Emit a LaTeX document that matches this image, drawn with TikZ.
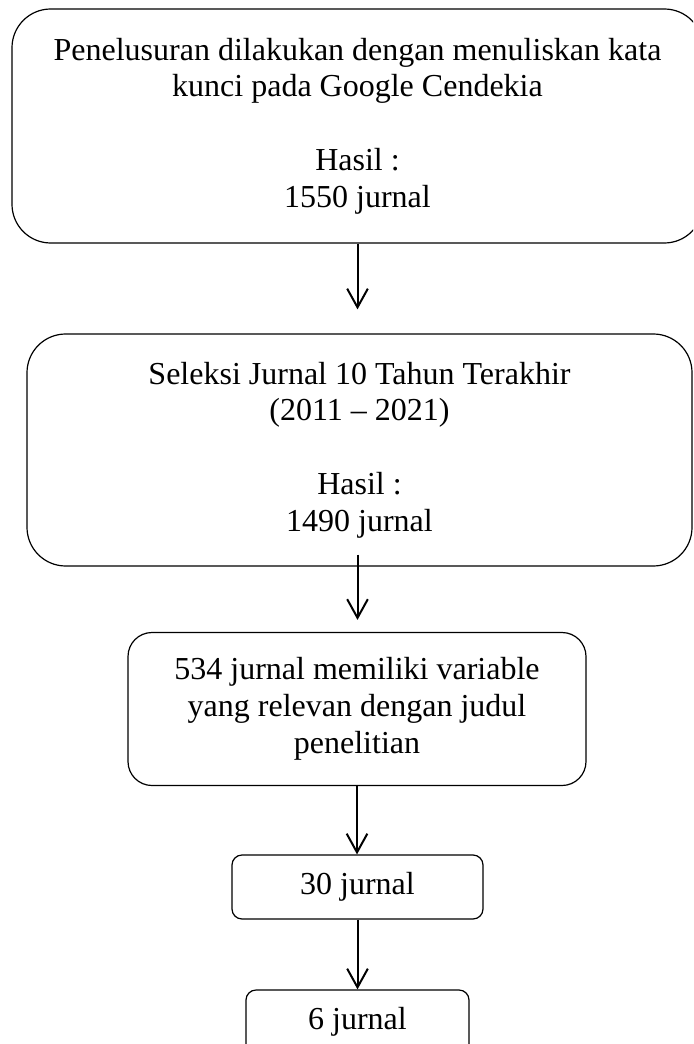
\documentclass[tikz,border=0pt]{standalone}
\usepackage{fontspec}
\setmainfont{Liberation Serif}
\usetikzlibrary{arrows.meta}
\tikzset{
  flowbox/.style={draw=black, line width=0.9pt, align=center, inner sep=0pt,
    font=\fontsize{24pt}{27.6pt}\selectfont},
  bigbox/.style={flowbox, rounded corners=29pt},
  midbox/.style={flowbox, rounded corners=18pt},
  smallbox/.style={flowbox, rounded corners=7.5pt},
  flowarrow/.style={draw=black, line width=1.5pt, -{Straight Barb[length=14pt,width=15.5pt,line width=1.5pt]}}
}
\begin{document}
\begin{tikzpicture}[x=0.75pt,y=-0.75pt]
\clip (0,0) rectangle (693,1044);
\fill[white] (0,0) rectangle (693,1044);

\node[bigbox, minimum width=518.25pt, minimum height=175.5pt] (b1) at (357.5,126)
  {Penelusuran dilakukan dengan menuliskan kata\\ kunci pada Google Cendekia\\[27.6pt] Hasil :\\ 1550 jurnal};

\node[bigbox, minimum width=498.75pt, minimum height=174pt] (b2) at (359.5,450)
  {Seleksi Jurnal 10 Tahun Terakhir\\ (2011 -- 2021)\\[27.6pt] Hasil :\\ 1490 jurnal};

\node[midbox, minimum width=343.5pt, minimum height=114.75pt] (b3) at (357,709)
  {534 jurnal memiliki variable\\ yang relevan dengan judul\\ penelitian};

\node[smallbox, minimum width=188.25pt, minimum height=48pt] (b4) at (357.5,887)
  {30 jurnal};

\node[smallbox, minimum width=167.25pt, minimum height=48pt] (b5) at (357.5,1022)
  {6 jurnal};

\draw[flowarrow, shorten >=18pt] (b1.south) -- (b1.south |- b2.north);
\draw[flowarrow, shorten <=-9pt, shorten >=9pt] ([xshift=-1.5pt]b2.south) -- ([xshift=-1.5pt]b2.south |- b3.north);
\draw[flowarrow] (b3.south) -- (b3.south |- b4.north);
\draw[flowarrow] (b4.south) -- (b4.south |- b5.north);
\end{tikzpicture}
\end{document}
